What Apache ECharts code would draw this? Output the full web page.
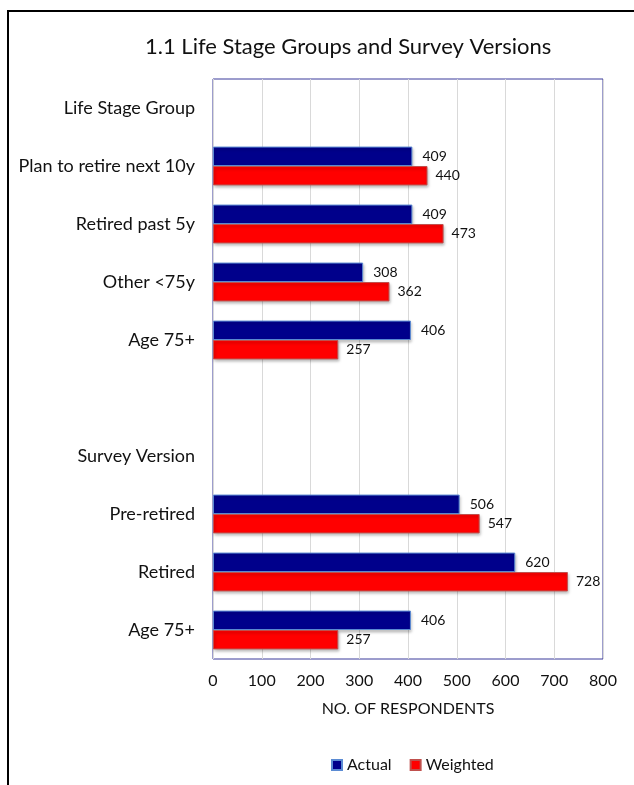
<!DOCTYPE html>
<html>
<head>
<meta charset="utf-8">
<script src="https://cdn.jsdelivr.net/npm/echarts@6/dist/echarts.min.js"></script>
<style>
  html, body { margin: 0; padding: 0; background: #fff; }
  #chart { width: 634px; height: 785px; position: absolute; left: 0; top: 0; }
  #frame { position: absolute; left: 7px; top: 10px; width: 640px; height: 800px;
           border-left: 2px solid #000; border-top: 2px solid #000; pointer-events: none; }
</style>
</head>
<body>
<div id="chart"></div>
<div id="frame"></div>
<script>
const categories = [
  'Life Stage Group',
  'Plan to retire next 10y',
  'Retired past 5y',
  'Other <75y',
  'Age 75+',
  '',
  'Survey Version',
  'Pre-retired',
  'Retired',
  'Age 75+'
];
const actual   = [null, 409, 409, 308, 406, null, null, 506, 620, 406];
const weighted = [null, 440, 473, 362, 257, null, null, 547, 728, 257];
const xTicks = { min: 0, max: 800, interval: 100 };

const FONT = 'Lato';
const chart = echarts.init(document.getElementById('chart'), null, { renderer: 'canvas' });

chart.setOption({
  animation: false,
  textStyle: { fontFamily: FONT },
  title: {
    text: '1.1 Life Stage Groups and Survey Versions',
    left: 140,
    top: 31,
    textStyle: { fontFamily: FONT, fontSize: 22, fontWeight: 'normal', color: '#111' }
  },
  legend: {
    data: ['Actual', 'Weighted'],
    left: 326,
    top: 752,
    itemWidth: 10,
    itemHeight: 10,
    itemGap: 18,
    icon: 'rect',
    textStyle: { fontFamily: FONT, fontSize: 16, color: '#111' }
  },
  grid: {
    left: 213,
    right: 31,
    top: 79,
    bottom: 126,
    show: true,
    borderColor: '#3b3b9b',
    borderWidth: 1,
    containLabel: false
  },
  xAxis: {
    type: 'value',
    min: xTicks.min,
    max: xTicks.max,
    interval: xTicks.interval,
    axisLine: { show: false },
    axisTick: { show: false },
    axisLabel: { fontFamily: FONT, fontSize: 16, color: '#111', margin: 14 },
    splitLine: { show: true, lineStyle: { color: '#d9d9d9', width: 1 } },
    name: 'NO. OF RESPONDENTS',
    nameLocation: 'middle',
    nameGap: 42,
    nameTextStyle: { fontFamily: FONT, fontSize: 16, color: '#111' }
  },
  yAxis: {
    type: 'category',
    inverse: true,
    data: categories,
    axisLine: { show: false },
    axisTick: { show: false },
    splitLine: { show: false },
    axisLabel: { fontFamily: FONT, fontSize: 18, color: '#111', margin: 18, interval: 0 }
  },
  series: [
    {
      name: 'Actual',
      type: 'bar',
      data: actual,
      barGap: '0%',
      barCategoryGap: '33%',
      itemStyle: {
        color: '#00008b',
        borderColor: '#5b8bd3',
        borderWidth: 1,
        shadowColor: 'rgba(0,0,0,0.25)',
        shadowBlur: 3,
        shadowOffsetX: 1,
        shadowOffsetY: 2
      },
      label: {
        show: true, position: 'right', distance: 10,
        fontFamily: FONT, fontSize: 14, color: '#111'
      }
    },
    {
      name: 'Weighted',
      type: 'bar',
      data: weighted,
      itemStyle: {
        color: '#ff0000',
        borderColor: '#c0504d',
        borderWidth: 1,
        shadowColor: 'rgba(0,0,0,0.3)',
        shadowBlur: 3,
        shadowOffsetX: 1,
        shadowOffsetY: 2
      },
      label: {
        show: true, position: 'right', distance: 8,
        fontFamily: FONT, fontSize: 14, color: '#111'
      }
    }
  ]
});
</script>
</body>
</html>
